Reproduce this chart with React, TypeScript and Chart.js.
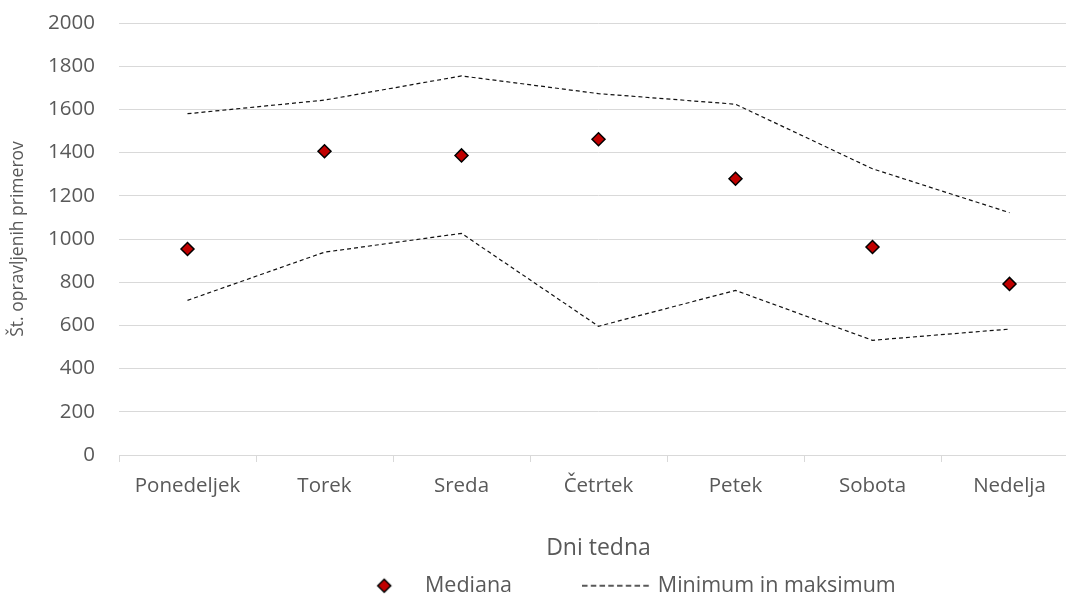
import React, { useEffect, useRef } from 'react';
import { Chart, registerables } from 'chart.js';
import { drawPoint } from 'chart.js/helpers';

Chart.register(...registerables);

const categories = ['Ponedeljek', 'Torek', 'Sreda', 'Četrtek', 'Petek', 'Sobota', 'Nedelja'];
const medianValues = [954, 1406, 1387, 1462, 1279, 963, 792];
const minimumValues = [716, 939, 1026, 596, 762, 531, 583];
const maximumValues = [1580, 1643, 1755, 1673, 1624, 1325, 1122];
const yTickMin = 0;
const yTickMax = 2000;
const yTickStep = 200;

const seriesLabels = ['Mediana', 'Minimum in maksimum', 'Maksimum'];
const xTitle = 'Dni tedna';
const yTitle = 'Št. opravljenih primerov';

const FONT = '"Open Sans", "DejaVu Sans", sans-serif';
const TEXT = '#595959';
const GRID = '#D9D9D9';
const RED = '#C00000';

const CANVAS_W = 1250;
const CANVAS_H = 595;
const PLOT_RIGHT = 1078;
const LEGEND_TOP = 500;

export default function App() {
  const ref = useRef<HTMLCanvasElement | null>(null);

  useEffect(() => {
    const canvas = ref.current;
    if (!canvas) return;

    const diamond = document.createElement('canvas');
    diamond.width = 18;
    diamond.height = 18;
    const dctx = diamond.getContext('2d')!;
    dctx.fillStyle = RED;
    dctx.strokeStyle = '#000';
    dctx.lineWidth = 1.5;
    drawPoint(dctx, { pointStyle: 'rectRot', radius: 6.5, rotation: 0, borderWidth: 1.5 } as any, 9, 9);

    const dash = document.createElement('canvas');
    dash.width = 70;
    dash.height = 4;
    const lctx = dash.getContext('2d')!;
    lctx.strokeStyle = '#222';
    lctx.lineWidth = 1.5;
    lctx.setLineDash([5.5, 3.25]);
    lctx.beginPath();
    lctx.moveTo(0, 2);
    lctx.lineTo(70, 2);
    lctx.stroke();

    const legendImages: any[] = [diamond, dash, dash];

    const legendShift = {
      id: 'legendShift',
      afterLayout(chart: any) {
        const lg = chart.legend;
        if (lg) {
          lg.top = LEGEND_TOP;
          lg.bottom = CANVAS_H;
          lg.height = CANVAS_H - LEGEND_TOP;
        }
      },
    };

    const chart = new Chart(canvas, {
      type: 'line',
      data: {
        labels: categories,
        datasets: [
          {
            label: seriesLabels[0],
            data: medianValues,
            showLine: false,
            pointStyle: 'rectRot',
            pointRadius: 6.5,
            pointHoverRadius: 6.5,
            pointBackgroundColor: RED,
            pointBorderColor: '#000',
            pointBorderWidth: 1.5,
            borderColor: '#000',
            backgroundColor: RED,
          },
          {
            label: seriesLabels[1],
            data: minimumValues,
            borderColor: '#111',
            borderWidth: 1.2,
            borderDash: [4, 3],
            pointRadius: 0,
            fill: false,
            tension: 0,
          },
          {
            label: seriesLabels[2],
            data: maximumValues,
            borderColor: '#111',
            borderWidth: 1.2,
            borderDash: [4, 3],
            pointRadius: 0,
            fill: false,
            tension: 0,
          },
        ],
      },
      options: {
        animation: false,
        responsive: false,
        maintainAspectRatio: false,
        layout: { padding: { top: 23, left: 0, right: 0, bottom: 0 } },
        plugins: {
          tooltip: { enabled: false },
          legend: {
            position: 'bottom',
            maxHeight: 30,
            labels: {
              usePointStyle: true,
              pointStyleWidth: 60,
              boxHeight: 14,
              padding: 75,
              color: TEXT,
              font: { family: FONT, size: 21.5 },
              filter: (item: any) => item.datasetIndex !== 2,
              generateLabels: (c: any) => {
                const items = Chart.defaults.plugins.legend.labels.generateLabels(c);
                return items.map((it: any) => ({ ...it, pointStyle: legendImages[it.datasetIndex] }));
              },
            },
          },
        },
        scales: {
          x: {
            type: 'category',
            offset: true,
            grid: {
              offset: true,
              drawOnChartArea: false,
              drawTicks: true,
              tickLength: 7,
              color: GRID,
              lineWidth: 1,
            },
            border: { display: true, color: GRID, width: 1 },
            ticks: {
              color: TEXT,
              font: { family: FONT, size: 20.5 },
              padding: 12,
              maxRotation: 0,
              autoSkip: false,
            },
            title: {
              display: true,
              text: xTitle,
              color: TEXT,
              font: { family: FONT, size: 23 },
              padding: { top: 0, bottom: 3 },
            },
            afterFit: (s: any) => {
              s.height = 110;
            },
          },
          y: {
            min: yTickMin,
            max: yTickMax,
            grid: { color: GRID, lineWidth: 1, drawTicks: true, tickLength: 24, tickColor: 'rgba(0,0,0,0)' },
            border: { display: false },
            ticks: {
              stepSize: yTickStep,
              color: TEXT,
              font: { family: FONT, size: 20.5 },
              padding: 0,
              callback: (v: any) => String(v),
            },
            title: {
              display: true,
              text: yTitle,
              color: TEXT,
              font: { family: FONT, size: 17.5 },
              padding: { top: 7.5, bottom: 0 },
            },
            afterFit: (s: any) => {
              s.width = 119;
            },
          },
          yRight: {
            position: 'right',
            display: true,
            grid: { display: false, drawOnChartArea: false },
            border: { display: false },
            ticks: { display: false },
            afterFit: (s: any) => {
              s.width = CANVAS_W - PLOT_RIGHT;
            },
          },
        },
      },
      plugins: [legendShift],
    } as any);

    return () => {
      chart.destroy();
    };
  }, []);

  return (
    <div
      style={{
        position: 'fixed',
        left: 0,
        top: 0,
        width: 1066,
        height: 595,
        overflow: 'hidden',
        background: '#fff',
      }}
    >
      <canvas
        ref={ref}
        width={CANVAS_W}
        height={CANVAS_H}
        style={{ width: CANVAS_W, height: CANVAS_H, display: 'block' }}
      />
    </div>
  );
}
